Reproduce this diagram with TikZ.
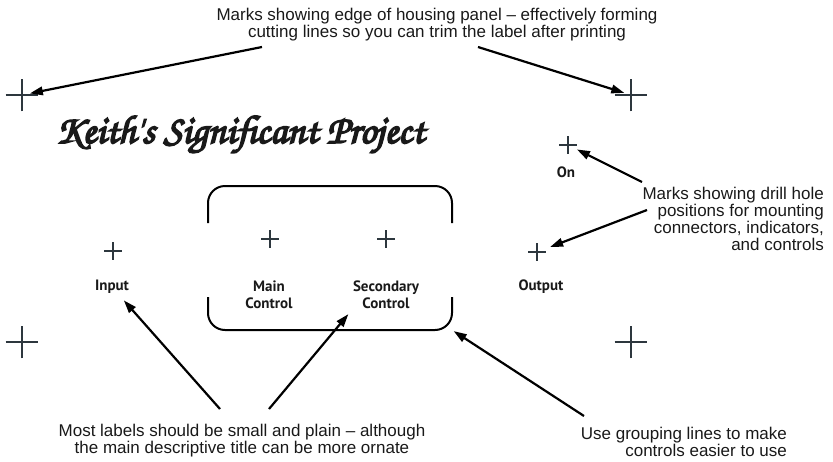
\documentclass[tikz,border=0pt]{standalone}
\usepackage{fontspec}
\setmainfont{Liberation Sans}
\newfontfamily\labelfont{PT Sans}
\newfontfamily\titlefont[FakeBold=4]{TeX Gyre Chorus}
\usetikzlibrary{arrows.meta,shapes.misc}
\definecolor{markgray}{RGB}{45,55,62}
\definecolor{inkblack}{RGB}{25,25,25}

\begin{document}
\begin{tikzpicture}[x=1pt, y=-1pt, >={Triangle[length=13pt,width=8.5pt]}, line width=2.2pt, font=\fontsize{17}{17}\selectfont, text=inkblack]
\tikzset{
	edgemark/.style={cross out, rotate=45, draw=markgray, line width=1.3pt, minimum size=22pt, inner sep=0pt},
	holemark/.style={cross out, rotate=45, draw=markgray, line width=1.2pt, minimum size=11.5pt, inner sep=0pt},
	panellabel/.style={font=\labelfont\bfseries\fontsize{15}{17}\selectfont, align=center, inner sep=1pt},
	note/.style={inner sep=0pt},
	grpline/.style={line width=2pt, rounded corners=17pt},
	pointer/.style={->, line width=2.2pt}
}
\useasboundingbox (0,0) rectangle (833,461);

% Marks for the edge of the panel
\node[edgemark] (tl) at (22,95) {};
\node[edgemark] (tr) at (631,95) {};
\node[edgemark] (bl) at (22,342) {};
\node[edgemark] (br) at (631,342) {};

% Drill hole marks
\node[holemark] (inmark) at (113,251) {};
\node[holemark] (mainmark) at (270,239) {};
\node[holemark] (secmark) at (386,239) {};
\node[holemark] (outmark) at (537,252) {};
\node[holemark] (onmark) at (568,145) {};

% Panel labels
\node[panellabel] (inlbl) at (112,287) {Input};
\node[panellabel] (mainlbl) at (269,295) {Main\\Control};
\node[panellabel] (seclbl) at (386,295) {Secondary\\Control};
\node[panellabel] (outlbl) at (541,287) {Output};
\node[panellabel] (onlbl) at (566,172) {On};

% Title
\node[font=\titlefont\fontsize{40}{46}\selectfont, anchor=base west, inner sep=0pt] (title) at (55,143) {Keith's Significant Project};

% Grouping lines
\draw[grpline] (208,223) |- (452,186) -- (452,223);
\draw[grpline] (208,297) |- (452,330) -- (452,297);
\coordinate (grpcorner) at (452,330);

% Notes
\node[note, align=center] (topnote) at (437,25)
{Marks showing edge of housing panel -- effectively forming\\
cutting lines so you can trim the label after printing};
\node[note, align=right, anchor=east] (holenote) at (825,218.5)
{Marks showing drill hole\\
positions for mounting\\
connectors, indicators,\\
and controls};
\node[note, align=center] (plainnote) at (242,441)
{Most labels should be small and plain -- although\\
the main descriptive title can be more ornate};
\node[note, align=right, anchor=east] (groupnote) at (788,442)
{Use grouping lines to make\\
controls easier to use};

% Arrow tails
\coordinate (t1) at (262,47);
\coordinate (t2) at (478,47);
\coordinate (t3) at (642,182);
\coordinate (t4) at (647,210);
\coordinate (t5) at (220,409);
\coordinate (t6) at (269,409);
\coordinate (t7) at (584,416);

% Pointers
\draw[pointer, shorten >=8pt] (t1) -- (tl.center);
\draw[pointer, shorten >=7pt] (t2) -- (tr.center);
\draw[pointer, shorten >=10pt] (t3) -- (onmark.center);
\draw[pointer, shorten >=14pt] (t4) -- (outmark.center);
\draw[pointer, shorten >=6pt] (t5) -- (inlbl);
\draw[pointer, shorten >=4pt] (t6) -- (seclbl.south west);
\draw[pointer, shorten >=2pt] (t7) -- (grpcorner);

\end{tikzpicture}
\end{document}
